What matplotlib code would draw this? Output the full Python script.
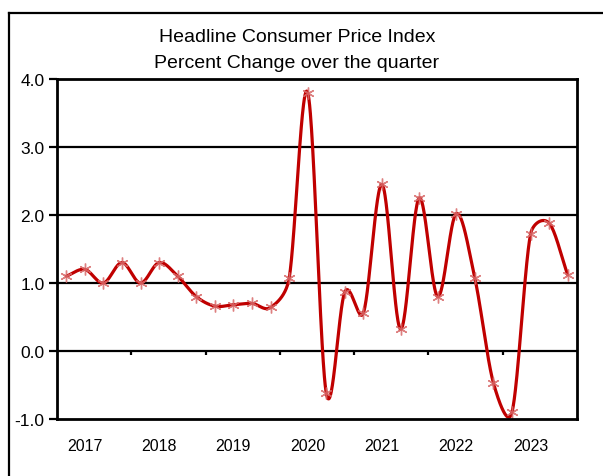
import numpy as np
import matplotlib
matplotlib.use("Agg")
import matplotlib.pyplot as plt

years = ["2017", "2018", "2019", "2020", "2021", "2022", "2023"]
cpi_qoq = [1.1, 1.2, 1.0, 1.3,
           1.0, 1.3, 1.1, 0.8,
           0.66, 0.68, 0.7, 0.64,
           1.07, 3.8, -0.62, 0.87,
           0.56, 2.45, 0.32, 2.25,
           0.8, 2.02, 1.07, -0.47,
           -0.9, 1.72, 1.88, 1.12]
title_lines = ["Headline Consumer Price Index", "Percent Change over the quarter"]
y_ticks = [-1.0, 0.0, 1.0, 2.0, 3.0, 4.0]

plt.rcParams["font.family"] = ["Liberation Sans", "DejaVu Sans"]

fig = plt.figure(figsize=(6.03, 4.77), dpi=100)
fig.add_artist(plt.Line2D([9/603, 1.0], [1 - 14/477, 1 - 14/477], color="black", lw=1.6, transform=fig.transFigure))
fig.add_artist(plt.Line2D([9/603, 9/603], [0.0, 1 - 14/477], color="black", lw=1.6, transform=fig.transFigure))

ax_w_px, ax_h_px = 520, 340
ax = fig.add_axes([57/603, 1 - 420/477, ax_w_px/603, ax_h_px/477])
ax.set_xlim(-0.5, len(cpi_qoq) - 0.5)
ax.set_ylim(-1.0, 4.0)

x = np.arange(len(cpi_qoq), dtype=float)
y = np.array(cpi_qoq, dtype=float)

# spreadsheet-like smoothed line: Catmull-Rom Bezier (screen space),
# control arms capped at half the adjacent segment length
kx = ax_w_px / (len(cpi_qoq))
ky = ax_h_px / 5.0
P = np.column_stack([x * kx, y * ky])

def cap(v, limit):
    L = np.linalg.norm(v)
    return v * (limit / L) if L > limit and L > 0 else v

def smooth(P, n=50):
    m = len(P)
    pts = []
    t = np.linspace(0, 1, n)[:, None]
    for i in range(m - 1):
        p0, p3 = P[i], P[i + 1]
        d = np.linalg.norm(p3 - p0)
        T0 = (P[i + 1] - P[i - 1]) / 6 if i > 0 else (p3 - p0) / 3
        T1 = (P[i + 2] - P[i]) / 6 if i + 2 < m else (p3 - p0) / 3
        c1 = p0 + cap(T0, d / 2)
        c2 = p3 - cap(T1, d / 2)
        b = (1 - t) ** 3 * p0 + 3 * (1 - t) ** 2 * t * c1 + 3 * (1 - t) * t ** 2 * c2 + t ** 3 * p3
        pts.append(b)
    B = np.vstack(pts)
    return B[:, 0] / kx, B[:, 1] / ky

sx, sy = smooth(P)

for v in y_ticks[1:-1]:
    ax.axhline(v, color="black", lw=1.6, zorder=1)

ax.plot(sx, sy, color="#C00000", lw=2.3, zorder=3, solid_capstyle="round", clip_on=False)
ax.plot(x, y, linestyle="none", marker=(6, 2, 0), markersize=8.5, markeredgewidth=1.0,
        color="#D86A6A", alpha=0.85, zorder=4)

bounds = np.arange(4, len(cpi_qoq), 4) - 0.5
ax.vlines(bounds, -0.065, 0.0, color="black", lw=1.6, zorder=2)

ax.set_yticks(y_ticks)
ax.set_yticklabels([f"{v:.1f}" for v in y_ticks], fontsize=12.5)
ax.tick_params(axis="y", length=6, width=1.6, pad=3, direction="out")

ax.set_xticks(np.arange(len(years)) * 4 + 1)
ax.set_xticklabels(years, fontsize=11.5)
ax.tick_params(axis="x", length=0, pad=14)

for s in ax.spines.values():
    s.set_linewidth(2.0)
    s.set_color("black")
    s.set_zorder(5)

fig.text(297/603, 1 - 38/477, title_lines[0], ha="center", va="center", fontsize=14)
fig.text(297/603, 1 - 64/477, title_lines[1], ha="center", va="center", fontsize=14)

fig.savefig("out.png", dpi=100)
